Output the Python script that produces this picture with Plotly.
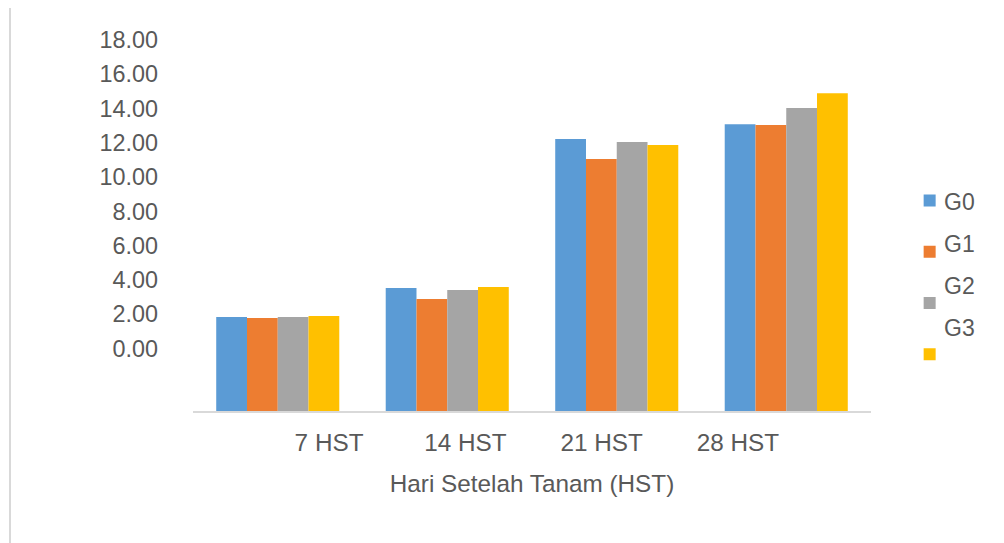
import plotly.graph_objects as go

CATEGORIES = ["7 HST", "14 HST", "21 HST", "28 HST"]
SERIES = ["G0", "G1", "G2", "G3"]
G0 = [1.83, 3.52, 12.22, 13.09]
G1 = [1.77, 2.88, 11.05, 13.04]
G2 = [1.83, 3.40, 12.04, 14.03]
G3 = [1.89, 3.58, 11.87, 14.90]
VALUES = [G0, G1, G2, G3]
COLORS = ["#5B9BD5", "#ED7D31", "#A5A5A5", "#FFC000"]
Y_TICKS = [0, 2, 4, 6, 8, 10, 12, 14, 16, 18]
X_TITLE = "Hari Setelah Tanam (HST)"

Y_MIN, Y_MAX = -3.66, 19.17
FONT = "Liberation Sans, Arial, sans-serif"
TXT = "#595959"

fig = go.Figure()
for name, vals, col in zip(SERIES, VALUES, COLORS):
    fig.add_trace(go.Bar(
        x=CATEGORIES, y=[v - Y_MIN for v in vals], base=Y_MIN,
        name="", legendgroup=name, marker=dict(color=col, line=dict(width=0)),
        customdata=vals, hovertemplate=name + ": %{customdata:.2f}<extra></extra>",
        showlegend=True,
    ))

# carrier trace for the category label axis
fig.add_trace(go.Scatter(
    x=list(range(len(CATEGORIES))), y=[Y_MIN] * len(CATEGORIES),
    xaxis="x2", mode="markers", marker=dict(opacity=0),
    hoverinfo="skip", showlegend=False,
))

# legend labels as text
for i, name in enumerate(SERIES):
    fig.add_annotation(text=name, xref="paper", yref="paper",
                       x=1.104, y=(411 - (201.7 + 42 * i)) / 391,
                       xanchor="left", yanchor="middle", showarrow=False,
                       font=dict(family=FONT, size=23, color=TXT))

fig.update_layout(
    width=1004, height=543,
    margin=dict(l=185, r=141, t=12, b=140, autoexpand=False),
    paper_bgcolor="white", plot_bgcolor="white",
    bargap=0.274, bargroupgap=0, barmode="group",
    font=dict(family=FONT, size=23, color=TXT),
    showlegend=True,
    legend=dict(x=1.057, y=0.578, xanchor="left", yanchor="top",
                traceorder="grouped", tracegroupgap=30,
                font=dict(size=14), bgcolor="rgba(0,0,0,0)"),
    xaxis=dict(showticklabels=False, showline=True, linecolor="#d9d9d9",
               linewidth=2, ticks="", showgrid=False, zeroline=False),
    xaxis2=dict(overlaying="x", anchor="y", side="bottom",
                range=[-0.998, 3.976], tickmode="array",
                tickvals=list(range(len(CATEGORIES))), ticktext=CATEGORIES,
                showgrid=False, zeroline=False, showline=False, ticks="",
                ticklabelstandoff=15,
                title=dict(text=X_TITLE, standoff=19,
                           font=dict(family=FONT, size=24.3, color=TXT)),
                tickfont=dict(family=FONT, size=24.3, color=TXT)),
    yaxis=dict(range=[Y_MIN, Y_MAX], tickmode="array", tickvals=Y_TICKS,
               tickformat=".2f", showgrid=False, zeroline=False, showline=False,
               ticks="", ticklabelstandoff=34,
               tickfont=dict(family=FONT, size=23.4, color=TXT)),
    shapes=[dict(type="rect", xref="paper", yref="paper",
                 x0=(10 - 193) / 678, x1=(1030 - 193) / 678,
                 y0=(411 - 560) / 391, y1=(411 - 7) / 391,
                 line=dict(color="#d9d9d9", width=2), layer="below")],
)

fig.write_html("out.html")
